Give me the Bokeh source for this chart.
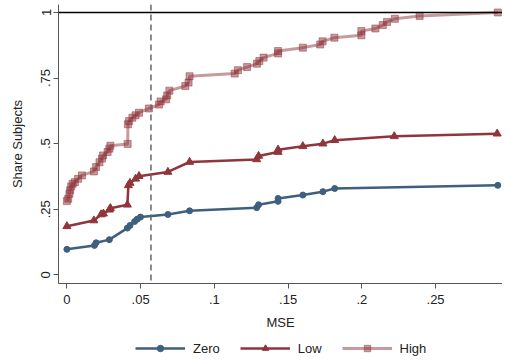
from bokeh.plotting import figure
from bokeh.models import Range1d, Span, Legend, FixedTicker
from bokeh.layouts import column
from bokeh.embed import file_html
from bokeh.resources import INLINE

# ---- data ----
zero_x = [0.0, 0.0187, 0.0198, 0.0288, 0.0410, 0.0428, 0.0459, 0.0477, 0.0499,
          0.0685, 0.0832, 0.1287, 0.1300, 0.1432, 0.1432, 0.1600, 0.1736, 0.1816, 0.2922]
zero_y = [0.097, 0.112, 0.122, 0.134, 0.178, 0.188, 0.203, 0.212, 0.220,
          0.230, 0.244, 0.256, 0.267, 0.280, 0.291, 0.304, 0.317, 0.329, 0.341]

low_x = [0.0, 0.0183, 0.0232, 0.0248, 0.0288, 0.0295, 0.0410, 0.0417, 0.0428, 0.0466, 0.0489,
         0.0685, 0.0832, 0.1287, 0.1300, 0.1432, 0.1432, 0.1600, 0.1736, 0.1816, 0.2220, 0.2918]
low_y = [0.185, 0.207, 0.230, 0.233, 0.248, 0.254, 0.267, 0.341, 0.350, 0.366, 0.376,
         0.392, 0.430, 0.440, 0.453, 0.468, 0.477, 0.490, 0.500, 0.513, 0.528, 0.538]

high_x = [0.0, 0.0009, 0.0017, 0.0022, 0.0029, 0.0039, 0.0054, 0.0076, 0.0102, 0.0183,
          0.0198, 0.0221, 0.0238, 0.0245, 0.0276, 0.0288, 0.0295, 0.0412, 0.0414, 0.0422,
          0.0444, 0.0466, 0.0489, 0.0556, 0.0625, 0.0636, 0.0673, 0.0680, 0.0695, 0.0803,
          0.0825, 0.0832, 0.1138, 0.1160, 0.1222, 0.1289, 0.1305, 0.1334, 0.1432, 0.1432,
          0.1600, 0.1718, 0.1734, 0.1814, 0.1997, 0.1997, 0.2092, 0.2142, 0.2171, 0.2224,
          0.2392, 0.2922]
high_y = [0.281, 0.290, 0.309, 0.322, 0.337, 0.347, 0.353, 0.366, 0.379, 0.394,
          0.411, 0.429, 0.443, 0.455, 0.468, 0.481, 0.492, 0.499, 0.574, 0.586,
          0.599, 0.608, 0.618, 0.634, 0.649, 0.661, 0.669, 0.684, 0.702, 0.720,
          0.733, 0.757, 0.767, 0.780, 0.792, 0.805, 0.815, 0.828, 0.844, 0.853,
          0.866, 0.878, 0.890, 0.904, 0.913, 0.929, 0.939, 0.952, 0.964, 0.976,
          0.987, 1.000]

series_names = ["Zero", "Low", "High"]
x_ticks = [0, 0.05, 0.1, 0.15, 0.2, 0.25]
x_tick_labels = ["0", ".05", ".1", ".15", ".2", ".25"]
y_ticks = [0, 0.25, 0.5, 0.75, 1]
y_tick_labels = ["0", ".25", ".5", ".75", "1"]
threshold = 0.057
top_line = 1

FONT = "Liberation Sans"
BLUE = "#3E5F7D"
RED = "#90353B"
TXT = "#222222"
AXC = "#555555"

p = figure(width=502, height=336, output_backend="svg", toolbar_location=None,
           x_range=Range1d(-0.0057, 0.2954), y_range=Range1d(-0.0332, 1.0305),
           min_border_left=58, min_border_right=0, min_border_top=4, min_border_bottom=53)
p.outline_line_color = None
p.xgrid.visible = False
p.ygrid.visible = False
p.background_fill_color = "white"
p.border_fill_color = "white"

p.add_layout(Span(location=top_line, dimension="width", line_color="black", line_width=1.3))
p.add_layout(Span(location=threshold, dimension="height", line_color="#666666",
                  line_width=1.5, line_dash="6 4"))

high_line = dict(line_color=RED, line_alpha=0.5, line_width=3)
high_mark = dict(marker="square", size=7, fill_color=RED, fill_alpha=0.5,
                 line_color=RED, line_alpha=0.5)
low_line = dict(line_color=RED, line_width=2.5)
low_mark = dict(marker="triangle", size=8, fill_color=RED, line_color=RED)
zero_line = dict(line_color=BLUE, line_width=2.5)
zero_mark = dict(marker="circle", size=6, fill_color=BLUE, line_color=BLUE)

p.line(high_x, high_y, **high_line)
p.scatter(high_x, high_y, **high_mark)
p.line(low_x, low_y, **low_line)
p.scatter(low_x, low_y, **low_mark)
p.line(zero_x, zero_y, **zero_line)
p.scatter(zero_x, zero_y, **zero_mark)

for ax in (p.xaxis[0], p.yaxis[0]):
    ax.axis_line_color = AXC
    ax.major_tick_line_color = AXC
    ax.major_tick_out = 5
    ax.major_tick_in = 0
    ax.minor_tick_line_color = None
    ax.major_label_text_font = FONT
    ax.major_label_text_font_size = "13px"
    ax.major_label_text_color = TXT
    ax.axis_label_text_font = FONT
    ax.axis_label_text_font_size = "13px"
    ax.axis_label_text_font_style = "normal"
    ax.axis_label_text_color = TXT

p.xaxis.ticker = FixedTicker(ticks=x_ticks)
p.xaxis.major_label_overrides = {t: l for t, l in zip(x_ticks, x_tick_labels)}
p.yaxis.ticker = FixedTicker(ticks=y_ticks)
p.yaxis.major_label_overrides = {t: l for t, l in zip(y_ticks, y_tick_labels)}
p.yaxis.major_label_orientation = "vertical"
p.xaxis.axis_label = "MSE"
p.yaxis.axis_label = "Share Subjects"
p.xaxis.major_label_standoff = 6
p.yaxis.major_label_standoff = 3
p.xaxis.axis_label_standoff = 8
p.yaxis.axis_label_standoff = 14

# legend strip below the chart (series drawn out of view; only the legend shows)
lg = figure(width=502, height=20, output_backend="svg", toolbar_location=None,
            x_axis_location=None, y_axis_location=None, min_border=0,
            x_range=Range1d(10, 11), y_range=Range1d(10, 11))
lg.outline_line_color = None
lg.xgrid.visible = False
lg.ygrid.visible = False
rz1 = lg.line(zero_x, zero_y, **zero_line)
rz2 = lg.scatter(zero_x, zero_y, **zero_mark)
rl1 = lg.line(low_x, low_y, **low_line)
rl2 = lg.scatter(low_x, low_y, **low_mark)
rh1 = lg.line(high_x, high_y, **high_line)
rh2 = lg.scatter(high_x, high_y, **high_mark)

legend = Legend(items=[(series_names[0], [rz1, rz2]),
                       (series_names[1], [rl1, rl2]),
                       (series_names[2], [rh1, rh2])],
                orientation="horizontal", location=(77, 0))
legend.glyph_width = 50
legend.glyph_height = 16
legend.label_standoff = 8
legend.spacing = 20
legend.padding = 2
legend.margin = 0
legend.border_line_color = None
legend.background_fill_alpha = 0
legend.label_text_font = FONT
legend.label_text_font_size = "13px"
legend.label_text_color = TXT
lg.add_layout(legend)

layout = column(p, lg)
open("out.html", "w").write(file_html(layout, INLINE))
